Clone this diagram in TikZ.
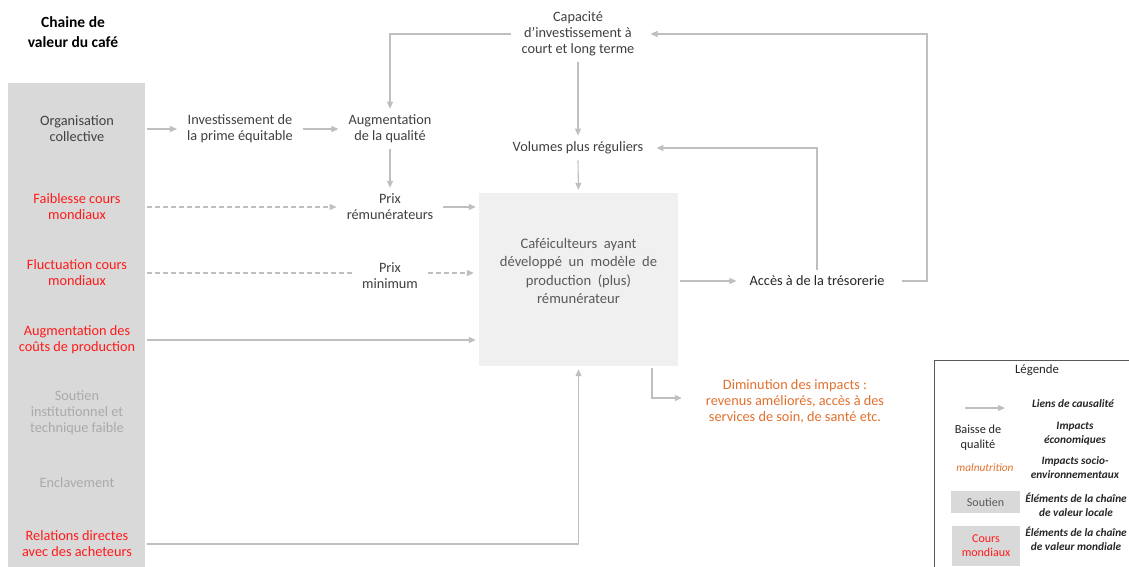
\documentclass[tikz,border=0pt]{standalone}
\usepackage{fontspec}
\setmainfont{Carlito}
\usetikzlibrary{arrows.meta}
\definecolor{txt}{HTML}{404040}
\definecolor{dark}{HTML}{262626}
\definecolor{redc}{HTML}{FF1A1A}
\definecolor{lgtxt}{HTML}{AAAAAA}
\definecolor{orangec}{HTML}{E2702E}
\definecolor{colfill}{HTML}{D9D9D9}
\definecolor{boxfill}{HTML}{F0F0F0}
\definecolor{arrc}{HTML}{BFBFBF}
\definecolor{maintxt}{HTML}{5A5A5A}
\definecolor{legborder}{HTML}{595959}
\tikzset{
  t/.style={font=\fontsize{14.3}{16}\selectfont, align=center, text=txt, inner xsep=10pt, inner ysep=6pt},
  tred/.style={t, text=redc},
  tgrey/.style={t, text=lgtxt},
  arr/.style={draw=arrc, line width=1.1pt, -{Triangle[length=7pt,width=6pt]}},
  darr/.style={arr, dash pattern=on 5pt off 3pt},
  ln/.style={draw=arrc, line width=1.1pt},
  dln/.style={ln, dash pattern=on 5pt off 3pt},
  leg/.style={font=\fontsize{11.3}{14}\selectfont\bfseries\itshape, align=center, text=dark, inner sep=0pt},
}
\begin{document}
\begin{tikzpicture}[x=1pt,y=-1pt]
\useasboundingbox (0,0) rectangle (1129,567);
\clip (0,0) rectangle (1129,567);
\fill[white] (0,0) rectangle (1129,567);

% title
\node[font=\fontsize{15.5}{20}\selectfont\bfseries, align=center, text=black, inner sep=0pt] (title) at (73,32) {Chaine de\\valeur du café};

% left column
\node[fill=colfill, anchor=north west, minimum width=137pt, minimum height=490pt, inner sep=0pt] (col) at (8,83) {};
\node[t] (org) at (77,129) {Organisation\\collective};
\node[tred] (faib) at (77,207) {Faiblesse cours\\mondiaux};
\node[tred] (fluct) at (77,273) {Fluctuation cours\\mondiaux};
\node[tred] (augc) at (77,340) {Augmentation des\\coûts de production};
\node[tgrey] (sout) at (77,413) {Soutien\\institutionnel et\\technique faible};
\node[tgrey] (encl) at (77,483) {Enclavement};
\node[tred] (rel) at (77,544) {Relations directes\\avec des acheteurs};

% middle nodes
\node[t] (inv) at (240,129) {Investissement de\\la prime équitable};
\node[t] (aug) at (390,129) {Augmentation\\de la qualité};
\node[t] (prix) at (390,207) {Prix\\rémunérateurs};
\node[t] (pmin) at (390,276) {Prix\\minimum};
\node[t] (cap) at (578,34) {Capacité\\d'investissement à\\court et long terme};
\node[t] (vol) at (578,148) {Volumes plus réguliers};
\node[fill=boxfill, minimum width=199pt, minimum height=173pt, inner sep=0pt] (main) at (578.5,279.5) {};
\node[font=\fontsize{14.6}{18.3}\selectfont, align=center, text=maintxt, inner sep=0pt] (maintext) at ([yshift=8.5pt]main.center) {Caféiculteurs \ ayant\\développé \ un \ modèle \ de\\production \ (plus)\\rémunérateur};
\node[t, text=dark] (acc) at (817,281) {Accès à de la trésorerie};
\node[t, text=orangec] (dim) at (795,401) {Diminution des impacts :\\revenus améliorés, accès à des\\services de soin, de santé etc.};

% connectors
\draw[arr] ([xshift=2pt]col.east |- org) -- (inv.west);
\draw[arr] (inv.east) -- (aug.west);
\draw[arr] (cap.west) -| (aug.north);
\draw[arr] (cap.south) -- (vol.north);
\draw[arr] (aug.south) -- (prix.north);
\draw[darr] ([xshift=2pt]col.east |- faib) -- (prix.west |- faib);
\draw[arr, shorten >=3pt] (prix.east) -- (main.west |- prix);
\draw[dln] ([xshift=2pt]col.east |- fluct) -- (pmin.west |- fluct);
\draw[darr, shorten >=5pt] (pmin.east |- fluct) -- (main.west |- fluct);
\draw[arr, shorten >=3pt] ([xshift=2pt]col.east |- augc) -- (main.west |- augc);
\draw[arr, shorten >=3pt] ([xshift=2pt]col.east |- rel) -| (main.south);
\draw[arr, shorten >=3pt] (vol.south) -- (main.north);
\draw[arr, shorten >=3pt] ([xshift=2pt]main.east |- acc) -- (acc.west);
\coordinate (rx) at (927,281);
\draw[arr, shorten >=6pt] ([xshift=7pt]acc.east) -- (rx) -- (rx |- cap.east) -- (cap.east);
\draw[arr, shorten >=3pt] (acc.north) |- (vol.east);
\coordinate (d1) at (652,368);
\coordinate (d2) at (652,398);
\draw[arr, shorten >=14pt] (d1) -- (d2) -- (dim.west |- d2);

% legend
\draw[draw=legborder, line width=0.9pt] (934,360) rectangle (1140,575);
\node[font=\fontsize{12.8}{14}\selectfont, text=dark, inner sep=0pt] (legt) at (1037,370) {Légende};
\coordinate (la1) at (965,408);
\coordinate (la2) at (1005,408);
\draw[arr] (la1) -- (la2);
\node[leg] (l1) at (1073,404) {Liens de causalité};
\node[font=\fontsize{12.3}{15}\selectfont, align=center, text=dark, inner sep=0pt] (lbq) at (978,438) {Baisse de\\qualité};
\node[leg] (l2) at (1075,434) {Impacts\\économiques};
\node[font=\fontsize{11.3}{13}\selectfont\itshape, text=orangec, inner sep=0pt] (lmal) at (985,468) {malnutrition};
\node[leg] (l3) at (1075,468) {Impacts socio-\\environnementaux};
\node[fill=colfill, minimum width=69pt, minimum height=22pt, inner sep=0pt, font=\fontsize{12}{13}\selectfont, text=maintxt] (lsout) at (985.5,502) {Soutien};
\node[leg] (l4) at (1076,505) {Éléments de la chaîne\\de valeur locale};
\node[fill=colfill, minimum width=68pt, minimum height=40pt, inner sep=0pt, align=center, font=\fontsize{12}{14}\selectfont, text=redc] (lcours) at (986,546) {Cours\\mondiaux};
\node[leg] (l5) at (1076,539) {Éléments de la chaîne\\de valeur mondiale};
\end{tikzpicture}
\end{document}
